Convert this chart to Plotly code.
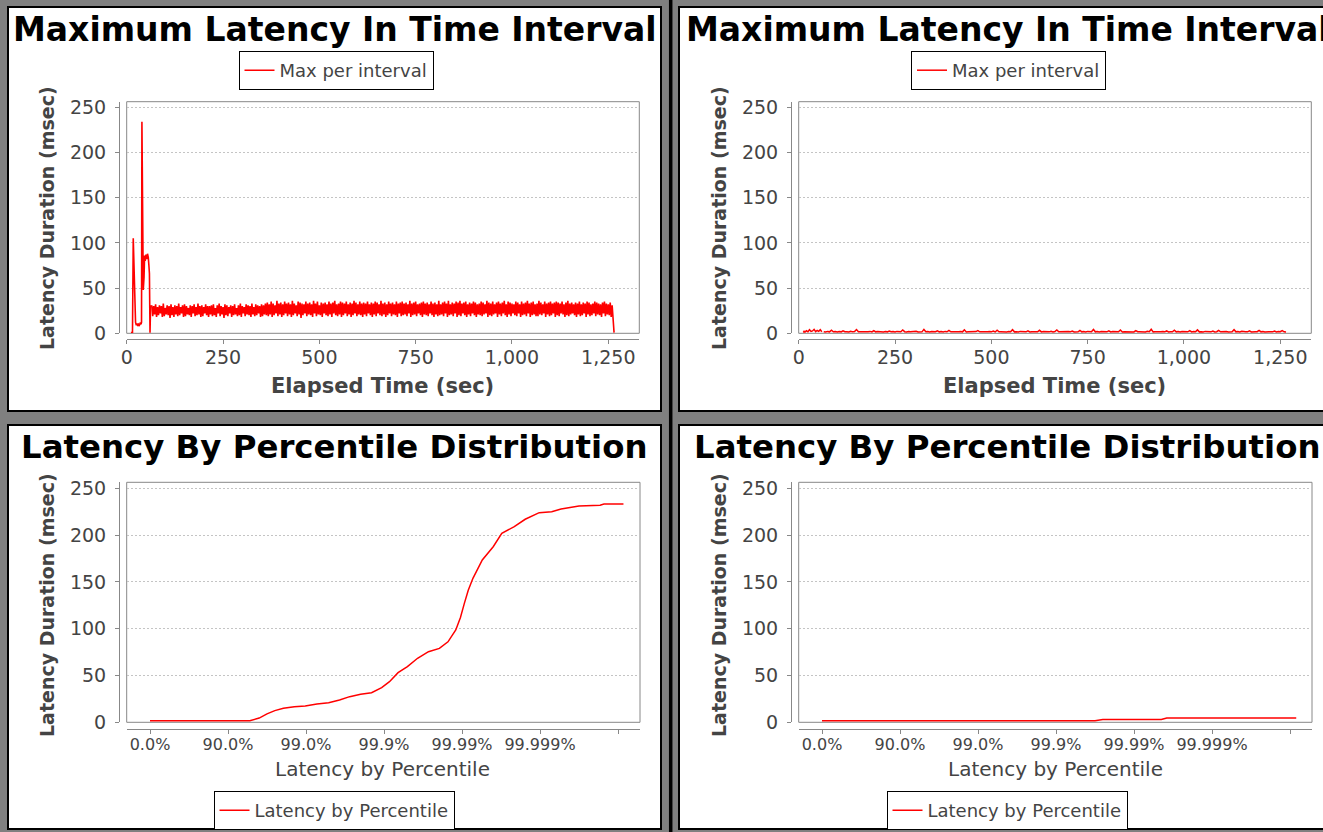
import plotly.graph_objects as go

# ---------------- data ----------------
# Left: Maximum latency per interval (msec) -- start-up phase (explicit times, sec)
left_start_time = [11, 13, 15, 17, 19, 21, 23, 25, 27, 29, 31, 33, 35, 37, 38.5, 39.5, 41, 43,
                   45, 46.5, 48, 50, 52, 54, 56, 57.5, 59, 60.5, 62]
left_start_max = [0.8, 1, 1, 105, 62, 35, 12, 9, 11, 8, 10, 9, 11, 10, 12, 234, 110, 48,
                  62, 86, 80, 87, 82, 88, 84, 76, 66, 0.5, 31]
# steady phase: one value every 2.5 sec starting at 65 sec
left_steady_start = 65
left_steady_step = 2.5
left_steady_max = [
    31, 19, 30, 21, 32, 18, 29, 20, 31, 22, 30, 18, 33, 19, 28, 21, 31, 20, 30, 17,
    32, 20, 29, 18, 31, 21, 30, 19, 33, 20, 29, 22, 31, 18, 32, 19, 30, 21, 28, 20,
    31, 18, 30, 22, 32, 19, 29, 20, 33, 21, 30, 18, 31, 19, 29, 22, 32, 20, 30, 18,
    30, 21, 31, 19, 32, 20, 28, 18, 31, 22, 33, 19, 30, 21, 29, 17, 32, 20, 31, 19,
    29, 22, 31, 18, 30, 20, 32, 21, 28, 19, 31, 20, 33, 18, 30, 22, 29, 19, 32, 21,
    31, 20, 30, 18, 33, 21, 29, 19, 32, 20, 31, 22, 30, 18, 32, 19, 31, 21, 33, 20,
    34, 19, 32, 21, 35, 18, 33, 20, 31, 22, 36, 19, 33, 21, 34, 18, 32, 20, 35, 22,
    33, 19, 34, 21, 32, 18, 36, 20, 33, 22, 31, 19, 35, 21, 34, 17, 33, 20, 32, 22,
    35, 19, 33, 21, 34, 20, 32, 18, 36, 22, 33, 19, 35, 21, 31, 20, 34, 18, 33, 22,
    34, 20, 32, 19, 35, 21, 33, 18, 34, 22, 36, 20, 32, 19, 33, 21, 35, 18, 34, 20,
    33, 22, 35, 19, 32, 21, 34, 18, 33, 20, 36, 22, 34, 19, 32, 21, 35, 20, 33, 18,
    34, 21, 33, 19, 35, 22, 32, 20, 34, 18, 33, 21, 35, 19, 34, 22, 32, 20, 36, 19,
    33, 21, 34, 18, 32, 20, 35, 22, 33, 19, 34, 21, 32, 20, 35, 18, 33, 22, 34, 19,
    35, 20, 33, 21, 34, 19, 32, 22, 36, 18, 33, 20, 34, 21, 35, 19, 32, 22, 33, 20,
    34, 18, 35, 21, 33, 20, 34, 19, 32, 22, 35, 20, 33, 18, 34, 21, 32, 19, 36, 20,
    32, 21, 34, 19, 35, 22, 33, 18, 36, 20, 32, 21, 34, 19, 33, 22, 35, 18, 34, 20,
    36, 19, 33, 22, 34, 20, 35, 18, 32, 21, 34, 19, 33, 22, 35, 20, 34, 18, 32, 21,
    33, 20, 35, 19, 34, 21, 32, 22, 36, 18, 34, 20, 33, 19, 35, 21, 32, 22, 34, 18,
    35, 21, 33, 19, 34, 22, 36, 20, 32, 18, 35, 21, 34, 19, 33, 22, 32, 20, 35, 19,
    34, 22, 32, 18, 35, 20, 33, 21, 34, 19, 36, 22, 33, 18, 34, 20, 35, 21, 32, 19,
    33, 19, 36, 21, 34, 20, 32, 22, 35, 18, 33, 21, 34, 19, 35, 20, 33, 22, 34, 18,
    35, 20, 34, 19, 33, 22, 35, 21, 32, 18, 34, 20, 36, 19, 33, 21, 34, 22, 32, 20,
    34, 18, 33, 21, 35, 19, 32, 20, 34, 22, 33, 18, 35, 21, 34, 19, 32, 20, 33, 22,
    35, 19, 34, 21, 33, 20, 32, 18, 34, 22, 35, 19, 33, 21, 32, 20, 34, 18, 31, 17,
    0.8,
]

# Right: Maximum latency per interval (msec)
right_start_time = [12, 14, 17, 20, 24, 28, 32, 36, 40, 44, 48, 52, 56, 60]
right_start_max = [0.9, 2.2, 1.6, 2.8, 1.7, 3.9, 2.0, 2.6, 4.4, 1.9, 3.1, 2.2, 4.0, 1.8]
right_steady_start = 65
right_steady_step = 5
right_steady_max = [
    1.8, 1.5, 2.1, 1.6, 3.4, 1.7, 1.9, 1.5, 2.0, 1.6, 2.8, 1.7, 1.8, 1.5, 2.2, 1.6, 1.9, 4.1, 1.7, 1.6,
    2.0, 1.5, 1.8, 1.7, 2.1, 1.5, 3.0, 1.6, 1.9, 1.7, 1.8, 1.5, 2.0, 1.6, 2.6, 1.7, 1.9, 1.5, 2.1, 1.6,
    1.7, 3.6, 1.8, 1.5, 2.0, 1.6, 1.9, 1.7, 2.3, 1.5, 1.8, 1.6, 4.3, 1.7, 1.9, 1.5, 2.0, 1.6, 1.8, 2.7,
    1.6, 1.9, 1.5, 2.1, 1.7, 3.2, 1.6, 1.8, 1.5, 2.0, 1.7, 1.9, 1.6, 3.8, 1.5, 1.8, 1.7, 2.2, 1.6, 1.9,
    2.9, 1.6, 1.8, 1.5, 2.0, 1.7, 1.9, 1.6, 2.4, 1.5, 3.5, 1.7, 1.8, 1.6, 2.0, 1.5, 1.9, 1.7, 4.0, 1.6,
    1.8, 1.5, 2.1, 1.7, 1.9, 1.6, 2.7, 1.5, 1.8, 1.7, 2.0, 1.6, 3.3, 1.5, 1.9, 1.7, 1.8, 1.6, 2.2, 1.5,
    1.9, 3.7, 1.6, 1.8, 1.5, 2.0, 1.7, 1.9, 1.6, 2.5, 1.5, 1.8, 1.7, 3.1, 1.6, 1.9, 1.5, 2.1, 1.7, 1.8,
    4.2, 1.6, 1.9, 1.5, 2.0, 1.7, 1.8, 1.6, 2.8, 1.5, 1.9, 1.7, 2.0, 1.6, 3.6, 1.5, 1.8, 1.7, 1.9, 1.6,
    2.1, 1.5, 3.0, 1.7, 1.8, 1.6, 1.9, 1.5, 2.3, 1.7, 4.4, 1.6, 1.8, 1.5, 2.0, 1.7, 1.9, 1.6, 2.6, 1.5,
    1.8, 1.7, 3.4, 1.6, 1.9, 1.5, 2.0, 1.7, 1.8, 1.6, 2.9, 1.5, 1.9, 1.7, 3.8, 1.6, 1.8, 1.5, 2.1, 1.7,
    1.9, 1.6, 2.4, 1.5, 1.8, 3.2, 1.7, 1.9, 1.6, 2.0, 1.5, 1.8, 1.7, 4.0, 1.6, 1.9, 1.5, 2.2, 1.7, 1.8,
    1.6, 2.7, 1.5, 1.9, 1.7, 1.8, 3.3, 1.6, 2.0, 1.5, 1.9, 1.7, 1.8, 1.6, 2.5, 1.5, 1.9, 1.7, 3.0, 1.6,
    1.5,
]

# Percentile distribution: x = 1/(1-percentile) (log axis), y = latency (msec)
left_pct_inv_tail = [1, 3.2, 10, 19.05, 25.1, 31.6, 39.8, 51.3, 70.8, 97.7, 138, 195, 269, 363,
                     501, 692, 933, 1175, 1514, 1995, 2692, 3715, 5129, 6607, 8318, 9550,
                     10715, 12023, 13804, 18197, 25119, 32359, 46774, 64565, 97724, 141254,
                     186209, 316228, 588844, 660693, 1174898]
left_pct_latency = [1.6, 1.6, 1.6, 1.7, 4.5, 9, 12.5, 15, 16.5, 17.5, 19.5, 21, 23.8, 27.4,
                    29.9, 31.6, 37, 43.4, 53, 59.4, 68.4, 75.4, 79, 86, 98.6, 112,
                    127, 141, 153.8, 173.4, 187.6, 201.9, 209, 216.9, 224, 225,
                    227.9, 231, 232, 233.2, 233.2]
right_pct_inv_tail = [1, 10, 100, 1000, 3162, 3981, 22387, 26303, 1202264]
right_pct_latency = [1.6, 1.6, 1.6, 1.6, 1.7, 2.9, 3.0, 4.5, 4.6]

latency_ticks = [0, 50, 100, 150, 200, 250]
time_ticks = [0, 250, 500, 750, 1000, 1250]
time_tick_text = ["0", "250", "500", "750", "1,000", "1,250"]
pct_ticks = [1, 10, 100, 1000, 10000, 100000, 1000000]
pct_tick_text = ["0.0%", "90.0%", "99.0%", "99.9%", "99.99%", "99.999%", ""]

title_top = "Maximum Latency In Time Interval"
title_bottom = "Latency By Percentile Distribution"
legend_top = "Max per interval"
legend_bottom = "Latency by Percentile"

# ---------------- layout helpers ----------------
W, H = 1323, 832
FONT = "DejaVu Sans"
def px(x):
    return x / W
def py(y):
    return 1 - y / H

RED = "#ff0000"
AXIS = "#888888"
TXT = "#444444"

fig = go.Figure()

# top-left
fig.add_trace(go.Scatter(x=left_start_time, y=left_start_max, mode="lines",
                         line=dict(color=RED, width=1.6), showlegend=False,
                         xaxis="x", yaxis="y", hoverinfo="skip"))
fig.add_trace(go.Scatter(x0=left_steady_start, dx=left_steady_step, y=left_steady_max, mode="lines",
                         line=dict(color=RED, width=1.6), name=legend_top, legend="legend",
                         xaxis="x", yaxis="y", hoverinfo="skip"))
# top-right
fig.add_trace(go.Scatter(x=right_start_time, y=right_start_max, mode="lines",
                         line=dict(color=RED, width=1.5), showlegend=False,
                         xaxis="x2", yaxis="y2", hoverinfo="skip"))
fig.add_trace(go.Scatter(x0=right_steady_start, dx=right_steady_step, y=right_steady_max, mode="lines",
                         line=dict(color=RED, width=1.5), name=legend_top, legend="legend2",
                         xaxis="x2", yaxis="y2", hoverinfo="skip"))
# bottom-left
fig.add_trace(go.Scatter(x=left_pct_inv_tail, y=left_pct_latency, mode="lines",
                         line=dict(color=RED, width=1.5), name=legend_bottom, legend="legend3",
                         xaxis="x3", yaxis="y3", hoverinfo="skip"))
# bottom-right
fig.add_trace(go.Scatter(x=right_pct_inv_tail, y=right_pct_latency, mode="lines",
                         line=dict(color=RED, width=1.5), name=legend_bottom, legend="legend4",
                         xaxis="x4", yaxis="y4", hoverinfo="skip"))

tickfont = dict(family=FONT, size=19, color=TXT)
pct_tickfont = dict(family=FONT, size=16, color=TXT)

def yax(dom_top, dom_bot, xpos, rng):
    return dict(domain=[py(dom_bot), py(dom_top)], range=rng, tickmode="array",
                tickvals=latency_ticks, showgrid=True, gridcolor="#c4c4c4", griddash="2px,2px",
                gridwidth=1, zeroline=False, showline=True, linecolor=AXIS, linewidth=1,
                ticks="outside", ticklen=4, tickcolor=AXIS, tickfont=tickfont, tickangle=0,
                ticklabelstandoff=5, automargin=False,
                anchor="free", position=px(xpos), fixedrange=True)

def xax(left, right, ypos, rng, vals, text, font, typ="linear", standoff=0):
    return dict(domain=[px(left), px(right)], range=rng, type=typ, tickmode="array",
                tickvals=vals, ticktext=text, showgrid=False, zeroline=False, showline=True,
                linecolor=AXIS, linewidth=1, ticks="outside", ticklen=4, tickcolor=AXIS,
                tickfont=font, tickangle=0, automargin=False, ticklabelstandoff=standoff,
                anchor="free", position=py(ypos), fixedrange=True)

DX = 672
TL = dict(l=126.7, r=639.3, t=101.7, b=333.3)
BL = dict(l=126.7, r=640.0, t=482.3, b=722.3)

fig.update_layout(
    xaxis=xax(TL["l"], TL["r"], 339, [0, 1330.5], time_ticks, time_tick_text, tickfont, "linear", -3),
    yaxis=yax(TL["t"], TL["b"], 119, [0, 256.2]),
    xaxis2=xax(TL["l"] + DX, TL["r"] + DX, 339, [0, 1330.5], time_ticks, time_tick_text, tickfont, "linear", -3),
    yaxis2=yax(TL["t"], TL["b"], 119 + DX, [0, 256.2]),
    xaxis3=xax(BL["l"], BL["r"], 729.3, [-0.299, 6.282], pct_ticks, pct_tick_text, pct_tickfont, "log", -4),
    yaxis3=yax(BL["t"], BL["b"], 119, [0, 256.4]),
    xaxis4=xax(BL["l"] + DX, BL["r"] + DX, 729.3, [-0.299, 6.282], pct_ticks, pct_tick_text, pct_tickfont, "log", -4),
    yaxis4=yax(BL["t"], BL["b"], 119 + DX, [0, 256.4]),
)

legend_common = dict(xanchor="center", yanchor="middle", orientation="h", bgcolor="white",
                     bordercolor="black", borderwidth=1, xref="container", yref="container",
                     font=dict(family=FONT, size=18, color=TXT), itemwidth=30)
fig.update_layout(
    legend=dict(x=px(336), y=py(70.5), **legend_common),
    legend2=dict(x=px(1008.5), y=py(70.5), **legend_common),
    legend3=dict(x=px(334), y=py(810.5), **legend_common),
    legend4=dict(x=px(1007), y=py(810.5), **legend_common),
)

shapes = []
# panels
for (x0, y0, x1, y1) in [(8, 7, 661, 411), (679, 7, 1345, 411), (8, 425, 661, 829), (679, 425, 1345, 829)]:
    shapes.append(dict(type="rect", xref="paper", yref="paper", x0=px(x0), x1=px(x1),
                       y0=py(y1), y1=py(y0), fillcolor="white",
                       line=dict(color="black", width=2), layer="below"))
# split-pane divider
shapes.append(dict(type="line", xref="paper", yref="paper", x0=px(670.7), x1=px(670.7),
                   y0=0, y1=1, line=dict(color="black", width=3.5), layer="below"))
# plot frames
for i in ["", "2", "3", "4"]:
    shapes.append(dict(type="rect", xref=f"x{i} domain", yref=f"y{i} domain", x0=0, x1=1,
                       y0=0, y1=1, line=dict(color=AXIS, width=1), layer="below"))

ann = []
def title(text, x, y, size):
    ann.append(dict(text=f"<b>{text}</b>", x=px(x), y=py(y), xref="paper", yref="paper",
                    showarrow=False, xanchor="center", yanchor="middle",
                    font=dict(family=FONT, size=size, color="black")))
title(title_top, 334.5, 29, 33)
title(title_top, 1007.5, 29, 33)
title(title_bottom, 334.5, 447, 32.4)
title(title_bottom, 1007, 447, 32.4)

def axtitle(text, x, y, angle=0, bold=True, size=19):
    t = f"<b>{text}</b>" if bold else text
    ann.append(dict(text=t, x=px(x), y=py(y), xref="paper", yref="paper", showarrow=False,
                    xanchor="center", yanchor="middle", textangle=angle,
                    font=dict(family=FONT, size=size, color=TXT)))

for dx in (0, DX):
    axtitle("Latency Duration (msec)", 47 + dx, 218, -90, True, 19)
    axtitle("Elapsed Time (sec)", 382.5 + dx, 386, 0, True, 21)
    axtitle("Latency Duration (msec)", 47 + dx, 605, -90, True, 19)
    axtitle("Latency by Percentile", 383 + dx, 769, 0, False, 20)

fig.update_layout(
    width=W, height=H, autosize=False,
    margin=dict(l=0, r=0, t=0, b=0, pad=0, autoexpand=False),
    paper_bgcolor="#808080", plot_bgcolor="white",
    shapes=shapes, annotations=ann,
    font=dict(family=FONT),
)

fig.write_html("out.html", config={"displayModeBar": False},
               post_script="document.body.style.margin='0';document.body.style.overflow='hidden';")
